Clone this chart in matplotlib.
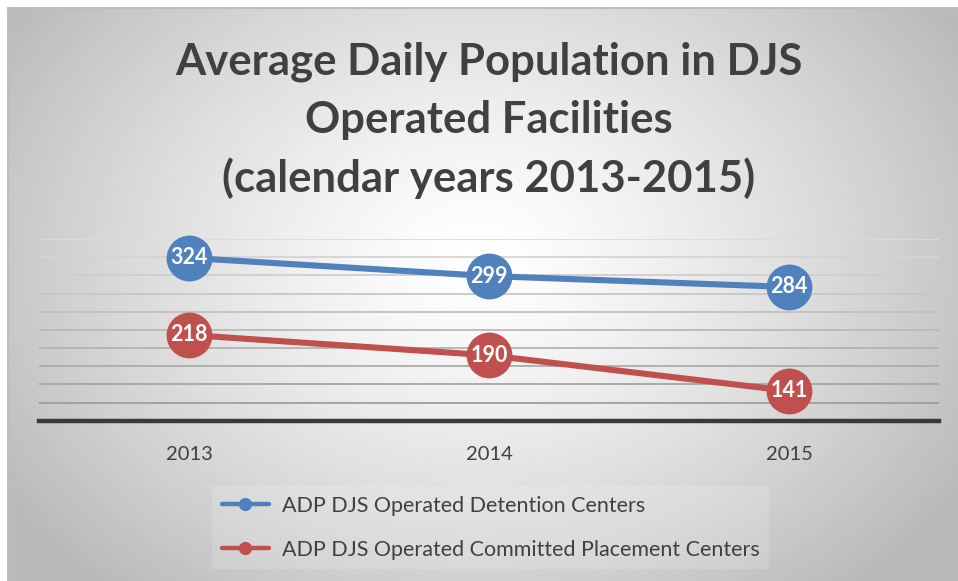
import numpy as np
import matplotlib
matplotlib.use("Agg")
import matplotlib.pyplot as plt
from matplotlib.lines import Line2D

# ---- data ----
years = ["2013", "2014", "2015"]
detention = [324, 299, 284]
committed = [218, 190, 141]
series_names = ["ADP DJS Operated Detention Centers",
                "ADP DJS Operated Committed Placement Centers"]
title_lines = ["Average Daily Population in DJS",
               "Operated Facilities",
               "(calendar years 2013-2015)"]

W, H = 958, 581
plt.rcParams['font.family'] = ['Lato', 'DejaVu Sans']
fig = plt.figure(figsize=(W / 100, H / 100), dpi=100)
fig.patch.set_facecolor('white')

# ---- background gradient box ----
bx0, by0 = 8, 8   # pixel offsets of chart box (left, top)
bg = fig.add_axes([bx0 / W, 0, (W - bx0) / W, (H - by0) / H], zorder=-10)
bw, bh = W - bx0, H - by0
yy, xx = np.mgrid[0:bh, 0:bw]
cx, cy = 470, 250
d = np.sqrt(((xx - cx) / 560.0) ** 2 + ((yy - cy) / 430.0) ** 2)
v = 1.0 - 0.27 * np.clip(d, 0, 1) ** 1.3
bg.imshow(v, cmap='gray', vmin=0, vmax=1, aspect='auto', interpolation='bilinear')
bg.set_axis_off()
# border lines (top and left)
fig.add_artist(Line2D([bx0 / W, 1], [1 - by0 / H, 1 - by0 / H], color='#bdbdbd', lw=1.5))
fig.add_artist(Line2D([bx0 / W, bx0 / W], [0, 1 - by0 / H], color='#bdbdbd', lw=1.5))

# ---- main axes ----
ax_left, ax_right = 39, 939
ax_bottom_px, ax_top_px = 420.7, 239
ax = fig.add_axes([ax_left / W, 1 - ax_bottom_px / H,
                   (ax_right - ax_left) / W, (ax_bottom_px - ax_top_px) / H])
ax.set_facecolor('none')
x = np.arange(len(years))
ax.set_xlim(-0.5, len(years) - 0.5)
ax.set_ylim(100, 350)

grid_vals = np.arange(125, 351, 25)
cols = np.linspace(0.62, 0.86, len(grid_vals))
for gv, c in zip(grid_vals, cols):
    ax.axhline(gv, color=str(c), lw=1.3, zorder=1)

for s in ['top', 'right', 'left']:
    ax.spines[s].set_visible(False)
ax.spines['bottom'].set_linewidth(3.2)
ax.spines['bottom'].set_color('#3a3a3a')
ax.spines['bottom'].set_zorder(2)
ax.set_yticks([])
ax.set_xticks(x)
ax.set_xticklabels(years, fontsize=14.5, color='#404040')
ax.tick_params(axis='x', length=0, pad=18)

blue = '#4f81bd'
red = '#c0504d'
for vals, col in [(detention, blue), (committed, red)]:
    ax.plot(x, vals, color=col, lw=4.4, marker='o', ms=33, mew=0, zorder=3,
            solid_capstyle='round', clip_on=False)
    for xi, vi in zip(x, vals):
        ax.text(xi, vi, str(vi), ha='center', va='center', color='white',
                fontsize=15.5, fontweight='bold', zorder=4)

# ---- title ----
baselines = [74, 133, 192]
for line, b in zip(title_lines, baselines):
    fig.text(489 / W, 1 - b / H, line, ha='center', va='baseline',
             fontsize=31.4, fontweight='bold', color='#404040')

# ---- legend ----
handles = [Line2D([0], [0], color=blue, lw=3.2, marker='o', ms=8.5, solid_capstyle='round'),
           Line2D([0], [0], color=red, lw=3.2, marker='o', ms=8.5, solid_capstyle='round')]
leg = fig.legend(handles, series_names, loc='upper left',
                 bbox_to_anchor=(212 / W, 1 - 486 / H), fontsize=15.5,
                 frameon=True, fancybox=False, handlelength=2.2, handletextpad=0.58,
                 labelspacing=1.12, borderpad=0.45, borderaxespad=0,
                 labelcolor='#404040')
leg.get_frame().set_facecolor('white')
leg.get_frame().set_alpha(0.15)
leg.get_frame().set_linewidth(0)

fig.savefig('out.png', dpi=100)
